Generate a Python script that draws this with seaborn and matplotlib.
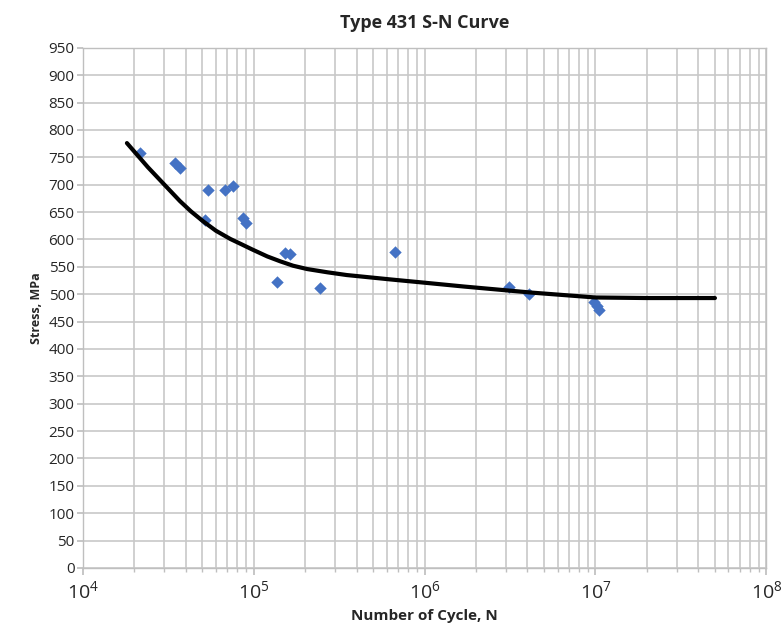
import matplotlib
matplotlib.use("Agg")
import matplotlib.pyplot as plt
import matplotlib.ticker as mticker
import seaborn as sns
import pandas as pd
import numpy as np

# test data
cycles = [21600, 34700, 37000, 54000, 51500, 68000, 76000, 87000, 90000,
          137000, 153000, 164000, 245000, 667000, 3.1e6, 4.1e6, 9.8e6, 1.02e7, 1.05e7]
stress = [758, 740, 730, 690, 635, 690, 697, 640, 630,
          523, 575, 573, 512, 577, 514, 500, 485, 478, 472]

# fitted curve
curve_n = [18100, 24000, 30000, 37000, 43000, 50600, 60000, 72800, 85000, 97500,
           120000, 143000, 170000, 205000, 270000, 350000, 630000, 1e6, 1.7e6,
           4.2e6, 1e7, 2e7, 5e7]
curve_s = [776, 732, 700, 670, 651, 633, 616, 601, 591, 582,
           569, 560, 552, 546, 540, 535, 527, 521, 514,
           503, 494, 493, 493]

pts = pd.DataFrame({"N": cycles, "S": stress})
crv = pd.DataFrame({"N": curve_n, "S": curve_s})

sns.set_theme(style="white")
plt.rcParams['font.family'] = ['Open Sans', 'DejaVu Sans']

fig = plt.figure(figsize=(7.82, 6.29), dpi=100)
ax = fig.add_axes([0.106, 0.097, 0.874, 0.827])

ax.set_xscale("log")
ax.set_xlim(1e4, 1e8)
ax.set_ylim(0, 950)

sns.scatterplot(data=pts, x="N", y="S", marker="D", color="#4472C4", s=40,
                edgecolor="#4472C4", linewidth=0, ax=ax, zorder=3)
sns.lineplot(data=crv, x="N", y="S", color="black", linewidth=3, ax=ax, zorder=4,
             sort=False)

ax.yaxis.set_major_locator(mticker.MultipleLocator(50))
ax.xaxis.set_major_locator(mticker.LogLocator(base=10, numticks=10))
ax.xaxis.set_minor_locator(mticker.LogLocator(base=10, subs=np.arange(2, 10), numticks=100))
ax.xaxis.set_minor_formatter(mticker.NullFormatter())

ax.grid(True, which="major", axis="both", color="#c8c8c8", linewidth=1.2)
ax.grid(True, which="minor", axis="x", color="#c8c8c8", linewidth=1.2)
ax.set_axisbelow(True)

for side in ["top", "right", "left", "bottom"]:
    ax.spines[side].set_color("#bfbfbf")
    ax.spines[side].set_linewidth(1)

ax.tick_params(axis="y", labelsize=11, length=4, color="#bfbfbf", pad=2, left=True)
ax.tick_params(axis="x", which="major", labelsize=14, length=5, color="#bfbfbf", bottom=True)
ax.tick_params(axis="x", which="minor", length=3, color="#bfbfbf", bottom=True)

ax.set_xlabel("Number of Cycle, N", fontsize=11, fontweight="bold", labelpad=5)
ax.set_ylabel("Stress, MPa", fontsize=9, fontweight="bold", labelpad=4)
ax.set_title("Type 431 S-N Curve", fontsize=13, fontweight="bold", pad=14)

fig.savefig("out.png", dpi=100)
